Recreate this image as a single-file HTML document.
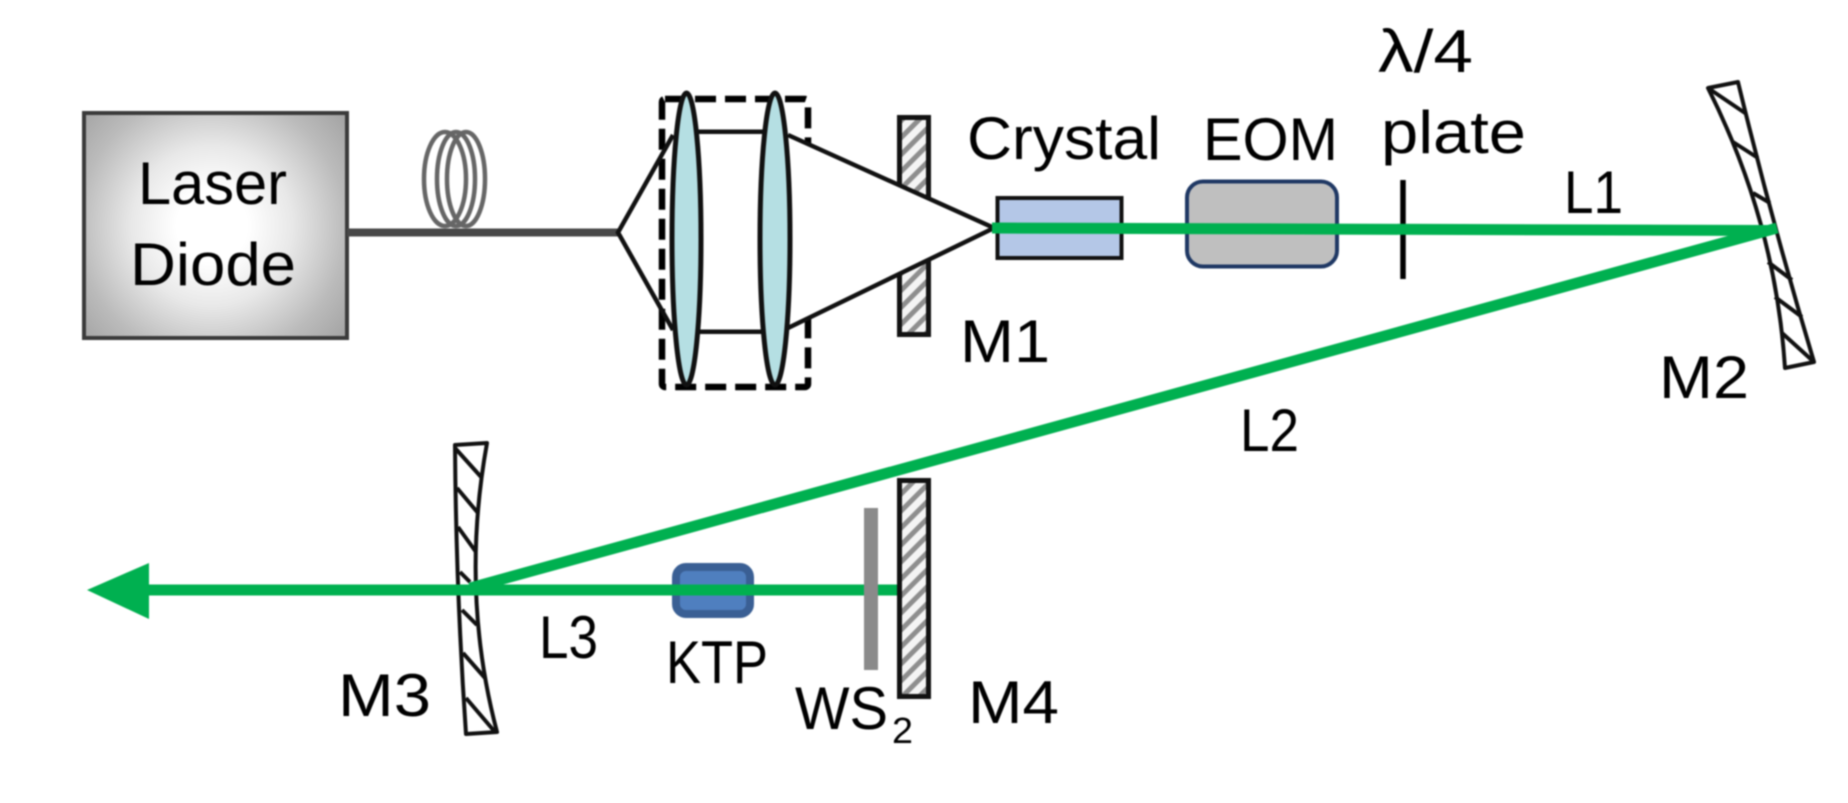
<!DOCTYPE html>
<html>
<head>
<meta charset="utf-8">
<style>
html,body{margin:0;padding:0;background:#fff;width:1848px;height:803px;overflow:hidden}
svg{display:block;filter:blur(0.7px)}
text{font-family:"Liberation Sans",sans-serif;fill:#000;font-size:60px}
</style>
</head>
<body>
<svg width="1848" height="803" viewBox="0 0 1848 803" xmlns="http://www.w3.org/2000/svg">
<defs>
<radialGradient id="ld" gradientUnits="userSpaceOnUse" cx="212" cy="226" r="178">
<stop offset="0.2" stop-color="#ffffff"/>
<stop offset="0.45" stop-color="#e8e8e8"/>
<stop offset="0.75" stop-color="#bbbbbb"/>
<stop offset="1" stop-color="#a0a0a0"/>
</radialGradient>
<pattern id="hatch" width="12" height="12" patternUnits="userSpaceOnUse" patternTransform="rotate(-45)">
<rect width="12" height="12" fill="#f4f4f4"/>
<rect width="12" height="5" fill="#8e8e8e"/>
</pattern>
</defs>
<rect width="1848" height="803" fill="#fff"/>

<!-- Laser diode -->
<rect x="84" y="113" width="263" height="225" fill="url(#ld)" stroke="#3a3a3a" stroke-width="4"/>
<text x="138" y="204" textLength="149" lengthAdjust="spacingAndGlyphs">Laser</text>
<text x="130" y="285" textLength="166" lengthAdjust="spacingAndGlyphs">Diode</text>

<!-- Fiber and coil -->
<g fill="none" stroke="#666" stroke-width="4.500">
<ellipse cx="445" cy="179" rx="21" ry="47"/>
<ellipse cx="456" cy="179" rx="19" ry="47"/>
<ellipse cx="466" cy="179" rx="19" ry="47"/>
</g>
<line x1="347" y1="232.500" x2="618" y2="232.500" stroke="#484848" stroke-width="8"/>

<!-- M1 -->
<rect x="899.500" y="117.500" width="29" height="217" fill="url(#hatch)" stroke="#111" stroke-width="5"/>

<!-- Dashed box -->
<rect x="662" y="99" width="146" height="288" fill="none" stroke="#000" stroke-width="6.500" stroke-dasharray="21 9" rx="3"/>

<!-- Beam cones -->
<polygon points="788,135 994,228 788,328" fill="#fff"/>
<path d="M673,135 L618,232.500 L673,330" fill="none" stroke="#111" stroke-width="4.500"/>
<path d="M788,135 L994,228 L788,328" fill="none" stroke="#111" stroke-width="4.500"/>
<line x1="695" y1="131.700" x2="765" y2="131.700" stroke="#111" stroke-width="4.500"/>
<line x1="695" y1="331.700" x2="765" y2="331.700" stroke="#111" stroke-width="4.500"/>

<!-- Lenses -->
<ellipse cx="686.500" cy="239" rx="14.500" ry="146" fill="#b5dfe3" stroke="#111" stroke-width="5"/>
<ellipse cx="775" cy="239" rx="15" ry="146" fill="#b5dfe3" stroke="#111" stroke-width="5"/>

<!-- Crystal -->
<rect x="997.500" y="198" width="124" height="60" fill="#b4c7e7" stroke="#111" stroke-width="4"/>

<!-- EOM -->
<rect x="1187" y="181.500" width="150" height="85" rx="16" ry="16" fill="#bfbfbf" stroke="#1f3864" stroke-width="4"/>

<!-- Quarter wave plate -->
<line x1="1403" y1="180" x2="1403" y2="279" stroke="#000" stroke-width="5.500"/>

<!-- M2 -->
<g fill="none" stroke="#111" stroke-width="4" stroke-linejoin="round">
<path d="M1708,88 L1738,82 Q1772,222 1814,362 L1785,368 Q1775.500,222 1708,88 Z" fill="#fff"/>
<path d="M1708,88 L1745,113 M1733,142 L1758,158 M1753,193 L1770,203 M1768,262 L1792,280 M1775,297 L1802,317 M1782,333 L1814,362"/>
</g>

<!-- M3 -->
<g fill="none" stroke="#111" stroke-width="4" stroke-linejoin="round">
<path d="M455,445 L487,443 Q460,592 497,732 L466,734 Q456,590 455,445 Z" fill="#fff"/>
<path d="M455,448 L482,478 M457,488 L478,513 M458,527 L476,552 M460,572 L470,582 M462,610 L477,625 M463,653 L485,678 M466,698 L495,732"/>
</g>

<!-- KTP -->
<rect x="676" y="567" width="74" height="47" rx="10" ry="10" fill="#4f7fbf" stroke="#3a5f94" stroke-width="8"/>

<!-- Green beams -->
<g stroke="#00b050" fill="none" stroke-width="11">
<line x1="992" y1="228" x2="1768" y2="230.500"/>
<line x1="1777" y1="228" x2="470" y2="588"/>
<line x1="145" y1="590" x2="898" y2="590"/>
</g>
<polygon points="87,590 149,563 149,619" fill="#00b050"/>

<!-- WS2 film -->
<rect x="864" y="508" width="14" height="162" fill="#8a8a8a"/>

<!-- M4 -->
<rect x="899.500" y="480.500" width="29" height="216" fill="url(#hatch)" stroke="#111" stroke-width="5"/>

<!-- Labels -->
<text x="967" y="159" textLength="194" lengthAdjust="spacingAndGlyphs">Crystal</text>
<text x="1203" y="160" textLength="135" lengthAdjust="spacingAndGlyphs">EOM</text>
<text x="1378" y="72" textLength="95" lengthAdjust="spacingAndGlyphs">λ/4</text>
<text x="1381" y="153" textLength="145" lengthAdjust="spacingAndGlyphs">plate</text>
<text x="1564" y="213" textLength="59" lengthAdjust="spacingAndGlyphs">L1</text>
<text x="960" y="362" textLength="90" lengthAdjust="spacingAndGlyphs">M1</text>
<text x="1659" y="398" textLength="90" lengthAdjust="spacingAndGlyphs">M2</text>
<text x="1240" y="451" textLength="59" lengthAdjust="spacingAndGlyphs">L2</text>
<text x="338" y="716" textLength="93" lengthAdjust="spacingAndGlyphs">M3</text>
<text x="539" y="658" textLength="59" lengthAdjust="spacingAndGlyphs">L3</text>
<text x="666" y="683" textLength="102" lengthAdjust="spacingAndGlyphs">KTP</text>
<text x="795" y="729" textLength="93" lengthAdjust="spacingAndGlyphs">WS</text>
<text x="892" y="743" style="font-size:36px" textLength="21" lengthAdjust="spacingAndGlyphs">2</text>
<text x="968" y="723" textLength="91" lengthAdjust="spacingAndGlyphs">M4</text>
</svg>
</body>
</html>
